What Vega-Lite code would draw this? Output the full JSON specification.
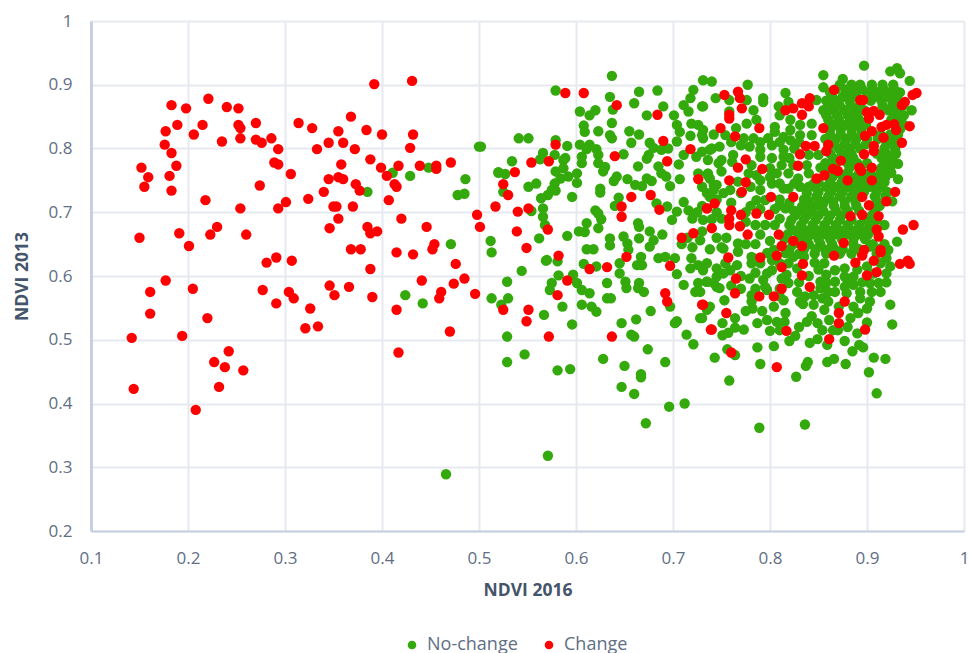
{"$schema":"https://vega.github.io/schema/vega-lite/v6.json","autosize":{"type":"none"},"padding":{"left":91,"top":21,"right":6,"bottom":122},"width":873,"height":510,"background":"white","config":{"view":{"stroke":null},"font":"Open Sans"},
"datasets":{"nochange":[{"x":0.466,"y":0.289},{"x":0.571,"y":0.318},{"x":0.411,"y":0.762},{"x":0.429,"y":0.757},{"x":0.448,"y":0.77},{"x":0.5,"y":0.803},{"x":0.385,"y":0.732},{"x":0.486,"y":0.752},{"x":0.478,"y":0.727},{"x":0.485,"y":0.729},{"x":0.471,"y":0.65},{"x":0.512,"y":0.655},{"x":0.513,"y":0.637},{"x":0.424,"y":0.57},{"x":0.442,"y":0.557},{"x":0.513,"y":0.565},{"x":0.52,"y":0.762},
{"x":0.544,"y":0.608},{"x":0.529,"y":0.591},{"x":0.53,"y":0.565},{"x":0.523,"y":0.555},{"x":0.569,"y":0.624},{"x":0.581,"y":0.623},{"x":0.582,"y":0.601},{"x":0.575,"y":0.589},{"x":0.573,"y":0.578},{"x":0.597,"y":0.602},{"x":0.601,"y":0.589},{"x":0.606,"y":0.578},{"x":0.614,"y":0.573},{"x":0.608,"y":0.619},{"x":0.621,"y":0.615},{"x":0.632,"y":0.589},{"x":0.645,"y":0.604},{"x":0.651,"y":0.591},{"x":0.652,"y":0.581},{"x":0.665,"y":0.589},{"x":0.664,"y":0.581},{"x":0.67,"y":0.575},{"x":0.632,"y":0.565},{"x":0.636,"y":0.565},{"x":0.586,"y":0.552},{"x":0.606,"y":0.555},{"x":0.616,"y":0.552},{"x":0.621,"y":0.544},{"x":0.567,"y":0.539},{"x":0.596,"y":0.524},{"x":0.677,"y":0.545},{"x":0.647,"y":0.526},{"x":0.662,"y":0.532},{"x":0.529,"y":0.505},{"x":0.547,"y":0.477},{"x":0.529,"y":0.465},{"x":0.581,"y":0.452},{"x":0.594,"y":0.454},{"x":0.628,"y":0.47},{"x":0.65,"y":0.459},{"x":0.657,"y":0.508},{"x":0.66,"y":0.505},{"x":0.674,"y":0.485},{"x":0.692,"y":0.465},{"x":0.667,"y":0.446},{"x":0.667,"y":0.441},{"x":0.647,"y":0.426},{"x":0.66,"y":0.415},{"x":0.696,"y":0.395},{"x":0.712,"y":0.4},{"x":0.672,"y":0.369},{"x":0.704,"y":0.529},{"x":0.702,"y":0.526},{"x":0.714,"y":0.508},{"x":0.721,"y":0.493},{"x":0.743,"y":0.472},{"x":0.728,"y":0.534},{"x":0.735,"y":0.547},{"x":0.711,"y":0.586},{"x":0.704,"y":0.603},{"x":0.723,"y":0.575},{"x":0.726,"y":0.589},{"x":0.735,"y":0.591},{"x":0.718,"y":0.612},{"x":0.726,"y":0.617},{"x":0.735,"y":0.62},{"x":0.745,"y":0.583},{"x":0.685,"y":0.628},{"x":0.692,"y":0.63},{"x":0.702,"y":0.628},{"x":0.719,"y":0.628},{"x":0.663,"y":0.617},{"x":0.668,"y":0.617},{"x":0.667,"y":0.63},{"x":0.645,"y":0.62},{"x":0.697,"y":0.552},
{"x":0.637,"y":0.914},{"x":0.579,"y":0.891},{"x":0.635,"y":0.881},{"x":0.665,"y":0.889},{"x":0.684,"y":0.891},{"x":0.66,"y":0.871},{"x":0.638,"y":0.861},{"x":0.62,"y":0.86},{"x":0.614,"y":0.852},{"x":0.604,"y":0.858},{"x":0.673,"y":0.852},{"x":0.69,"y":0.866},{"x":0.701,"y":0.852},{"x":0.711,"y":0.868},{"x":0.716,"y":0.858},{"x":0.718,"y":0.879},{"x":0.721,"y":0.892},{"x":0.73,"y":0.866},{"x":0.731,"y":0.907},{"x":0.74,"y":0.905},{"x":0.744,"y":0.879},{"x":0.608,"y":0.836},{"x":0.609,"y":0.826},{"x":0.623,"y":0.827},{"x":0.637,"y":0.84},{"x":0.635,"y":0.821},{"x":0.637,"y":0.816},{"x":0.655,"y":0.827},{"x":0.665,"y":0.822},{"x":0.657,"y":0.809},{"x":0.704,"y":0.837},{"x":0.707,"y":0.826},{"x":0.704,"y":0.811},{"x":0.718,"y":0.82},{"x":0.719,"y":0.839},{"x":0.726,"y":0.837},{"x":0.73,"y":0.821},{"x":0.742,"y":0.822},{"x":0.541,"y":0.816},{"x":0.551,"y":0.816},{"x":0.502,"y":0.803},{"x":0.534,"y":0.78},{"x":0.579,"y":0.813},{"x":0.591,"y":0.804},{"x":0.566,"y":0.793},{"x":0.563,"y":0.783},{"x":0.578,"y":0.79},{"x":0.589,"y":0.785},{"x":0.587,"y":0.782},{"x":0.604,"y":0.806},{"x":0.614,"y":0.806},{"x":0.611,"y":0.799},{"x":0.621,"y":0.799},{"x":0.606,"y":0.787},{"x":0.606,"y":0.777},{"x":0.623,"y":0.79},{"x":0.623,"y":0.777},{"x":0.63,"y":0.771},{"x":0.628,"y":0.764},{"x":0.649,"y":0.791},{"x":0.676,"y":0.809},{"x":0.68,"y":0.801},{"x":0.675,"y":0.79},{"x":0.673,"y":0.784},{"x":0.688,"y":0.798},{"x":0.695,"y":0.8},{"x":0.685,"y":0.772},{"x":0.688,"y":0.761},{"x":0.693,"y":0.756},{"x":0.697,"y":0.741},{"x":0.706,"y":0.775},{"x":0.711,"y":0.79},{"x":0.724,"y":0.787},{"x":0.738,"y":0.798},{"x":0.736,"y":0.782},{"x":0.747,"y":0.777},{"x":0.664,"y":0.772},{"x":0.52,"y":0.763},{"x":0.527,"y":0.76},{"x":0.551,"y":0.74},{"x":0.559,"y":0.745},{"x":0.579,"y":0.764},{"x":0.587,"y":0.769},{"x":0.584,"y":0.753},{"x":0.592,"y":0.756},{"x":0.601,"y":0.761},{"x":0.601,"y":0.746},{"x":0.578,"y":0.745},{"x":0.575,"y":0.735},{"x":0.579,"y":0.734},{"x":0.571,"y":0.727},{"x":0.564,"y":0.722},{"x":0.596,"y":0.724},{"x":0.625,"y":0.737},{"x":0.625,"y":0.731},{"x":0.642,"y":0.756},{"x":0.639,"y":0.749},{"x":0.653,"y":0.752},{"x":0.661,"y":0.743},{"x":0.668,"y":0.741},{"x":0.673,"y":0.753},{"x":0.678,"y":0.749},{"x":0.707,"y":0.752},{"x":0.726,"y":0.761},{"x":0.736,"y":0.758},{"x":0.742,"y":0.743},{"x":0.738,"y":0.724},{"x":0.525,"y":0.732},{"x":0.566,"y":0.706},{"x":0.554,"y":0.702},{"x":0.566,"y":0.693},{"x":0.568,"y":0.68},{"x":0.562,"y":0.659},{"x":0.591,"y":0.663},{"x":0.611,"y":0.683},{"x":0.603,"y":0.67},{"x":0.609,"y":0.669},{"x":0.623,"y":0.675},{"x":0.626,"y":0.689},{"x":0.62,"y":0.703},{"x":0.623,"y":0.698},{"x":0.644,"y":0.723},{"x":0.64,"y":0.71},{"x":0.664,"y":0.683},{"x":0.665,"y":0.677},{"x":0.676,"y":0.67},{"x":0.665,"y":0.659},{"x":0.689,"y":0.665},{"x":0.68,"y":0.656},{"x":0.676,"y":0.646},{"x":0.635,"y":0.659},{"x":0.635,"y":0.648},{"x":0.649,"y":0.662},{"x":0.653,"y":0.651},{"x":0.654,"y":0.641},{"x":0.611,"y":0.642},{"x":0.618,"y":0.642},{"x":0.709,"y":0.65},{"x":0.728,"y":0.656},{"x":0.738,"y":0.642},{"x":0.731,"y":0.688},{"x":0.74,"y":0.689},{"x":0.711,"y":0.716},{"x":0.704,"y":0.701},{"x":0.716,"y":0.703},{"x":0.694,"y":0.709},{"x":0.699,"y":0.688},{"x":0.57,"y":0.625},{"x":0.683,"y":0.714},
{"x":0.789,"y":0.362},{"x":0.836,"y":0.367},{"x":0.91,"y":0.416},{"x":0.758,"y":0.436},{"x":0.827,"y":0.442},{"x":0.902,"y":0.449},{"x":0.79,"y":0.462},{"x":0.787,"y":0.488},{"x":0.804,"y":0.49},{"x":0.837,"y":0.459},{"x":0.839,"y":0.465},{"x":0.859,"y":0.465},{"x":0.866,"y":0.47},{"x":0.878,"y":0.462},{"x":0.907,"y":0.472},{"x":0.919,"y":0.47},{"x":0.885,"y":0.482},{"x":0.892,"y":0.492},{"x":0.896,"y":0.488},{"x":0.877,"y":0.498},{"x":0.82,"y":0.498},{"x":0.841,"y":0.495},{"x":0.849,"y":0.501},{"x":0.859,"y":0.492},{"x":0.826,"y":0.506},{"x":0.764,"y":0.476},{"x":0.756,"y":0.485},{"x":0.926,"y":0.524},{"x":0.924,"y":0.555},{"x":0.9,"y":0.527},{"x":0.883,"y":0.534},{"x":0.751,"y":0.507},{"x":0.757,"y":0.511},{"x":0.751,"y":0.526},{"x":0.764,"y":0.534},{"x":0.764,"y":0.519},{"x":0.773,"y":0.516},{"x":0.787,"y":0.526},{"x":0.8,"y":0.514},{"x":0.797,"y":0.531},{"x":0.807,"y":0.528},{"x":0.815,"y":0.528},{"x":0.816,"y":0.542},{"x":0.792,"y":0.545},{"x":0.782,"y":0.549},{"x":0.775,"y":0.545},{"x":0.804,"y":0.552},{"x":0.838,"y":0.528},{"x":0.843,"y":0.537},{"x":0.849,"y":0.526},{"x":0.854,"y":0.515},{"x":0.861,"y":0.531},{"x":0.856,"y":0.547},{"x":0.854,"y":0.565},{"x":0.834,"y":0.556},{"x":0.831,"y":0.56},{"x":0.738,"y":0.552},{"x":0.73,"y":0.534},{"x":0.753,"y":0.562},{"x":0.748,"y":0.581},{"x":0.742,"y":0.589},{"x":0.731,"y":0.609},{"x":0.735,"y":0.591},{"x":0.745,"y":0.599},{"x":0.752,"y":0.604},{"x":0.759,"y":0.609},{"x":0.766,"y":0.617},{"x":0.754,"y":0.62},{"x":0.745,"y":0.612},{"x":0.781,"y":0.57},{"x":0.781,"y":0.56},{"x":0.797,"y":0.578},{"x":0.793,"y":0.594},{"x":0.797,"y":0.604},{"x":0.802,"y":0.609},{"x":0.795,"y":0.583},{"x":0.817,"y":0.602},{"x":0.812,"y":0.596},{"x":0.81,"y":0.568},{"x":0.819,"y":0.589},{"x":0.814,"y":0.562},{"x":0.828,"y":0.575},{"x":0.836,"y":0.568},{"x":0.852,"y":0.581},{"x":0.852,"y":0.591},{"x":0.858,"y":0.602},{"x":0.867,"y":0.609},{"x":0.877,"y":0.612},{"x":0.858,"y":0.589},{"x":0.867,"y":0.591},{"x":0.867,"y":0.575},{"x":0.877,"y":0.599},{"x":0.877,"y":0.583},{"x":0.886,"y":0.599},{"x":0.886,"y":0.586},{"x":0.879,"y":0.573},{"x":0.893,"y":0.575},{"x":0.893,"y":0.565},{"x":0.903,"y":0.56},{"x":0.9,"y":0.549},{"x":0.891,"y":0.542},{"x":0.886,"y":0.552},{"x":0.871,"y":0.552},{"x":0.912,"y":0.589},{"x":0.914,"y":0.575},{"x":0.92,"y":0.604},{"x":0.903,"y":0.589},{"x":0.924,"y":0.615},{"x":0.92,"y":0.628},{"x":0.922,"y":0.641},{"x":0.931,"y":0.654},{"x":0.846,"y":0.621},{"x":0.856,"y":0.62},{"x":0.781,"y":0.63},{"x":0.781,"y":0.62},{"x":0.779,"y":0.596},{"x":0.767,"y":0.638},{"x":0.767,"y":0.651},{"x":0.752,"y":0.643},{"x":0.816,"y":0.636},{"x":0.824,"y":0.63},{"x":0.797,"y":0.636},{"x":0.804,"y":0.641},{"x":0.802,"y":0.625},{"x":0.819,"y":0.62},{"x":0.828,"y":0.612},{"x":0.866,"y":0.643},{"x":0.857,"y":0.641},{"x":0.886,"y":0.641},{"x":0.903,"y":0.646},{"x":0.914,"y":0.62},{"x":0.907,"y":0.604},{"x":0.728,"y":0.575},
{"x":0.897,"y":0.93},{"x":0.855,"y":0.915},{"x":0.855,"y":0.896},{"x":0.875,"y":0.909},{"x":0.924,"y":0.921},{"x":0.931,"y":0.926},{"x":0.934,"y":0.918},{"x":0.944,"y":0.906},{"x":0.946,"y":0.86},{"x":0.932,"y":0.776},{"x":0.932,"y":0.752},{"x":0.922,"y":0.764},{"x":0.926,"y":0.717},{"x":0.816,"y":0.887},{"x":0.793,"y":0.879},{"x":0.793,"y":0.873},{"x":0.777,"y":0.9},{"x":0.758,"y":0.876},{"x":0.776,"y":0.876},{"x":0.783,"y":0.86},{"x":0.809,"y":0.866},{"x":0.819,"y":0.873},{"x":0.81,"y":0.852},{"x":0.821,"y":0.845},{"x":0.848,"y":0.876},{"x":0.786,"y":0.845},{"x":0.776,"y":0.839},{"x":0.805,"y":0.834},{"x":0.805,"y":0.826},{"x":0.731,"y":0.866},{"x":0.758,"y":0.858},{"x":0.765,"y":0.832},{"x":0.731,"y":0.829},{"x":0.731,"y":0.816},{"x":0.754,"y":0.821},{"x":0.773,"y":0.816},{"x":0.783,"y":0.816},{"x":0.798,"y":0.816},{"x":0.802,"y":0.805},{"x":0.814,"y":0.818},{"x":0.821,"y":0.829},{"x":0.831,"y":0.837},{"x":0.843,"y":0.839},{"x":0.843,"y":0.821},{"x":0.831,"y":0.821},{"x":0.821,"y":0.813},{"x":0.79,"y":0.798},{"x":0.814,"y":0.798},{"x":0.814,"y":0.787},{"x":0.802,"y":0.785},{"x":0.79,"y":0.787},{"x":0.779,"y":0.803},{"x":0.762,"y":0.79},{"x":0.748,"y":0.803},{"x":0.74,"y":0.8},{"x":0.73,"y":0.795},{"x":0.75,"y":0.782},{"x":0.761,"y":0.779},{"x":0.781,"y":0.774},{"x":0.75,"y":0.764},{"x":0.736,"y":0.761},{"x":0.738,"y":0.753},{"x":0.8,"y":0.769},{"x":0.812,"y":0.774},{"x":0.824,"y":0.774},{"x":0.819,"y":0.761},{"x":0.807,"y":0.761},{"x":0.786,"y":0.758},{"x":0.778,"y":0.761},{"x":0.838,"y":0.774},{"x":0.84,"y":0.761},{"x":0.829,"y":0.753},{"x":0.767,"y":0.748},{"x":0.745,"y":0.743},{"x":0.742,"y":0.735},{"x":0.752,"y":0.73},{"x":0.759,"y":0.735},{"x":0.79,"y":0.735},{"x":0.802,"y":0.745},{"x":0.814,"y":0.737},{"x":0.819,"y":0.737},{"x":0.831,"y":0.74},{"x":0.838,"y":0.73},{"x":0.786,"y":0.719},{"x":0.795,"y":0.719},{"x":0.81,"y":0.711},{"x":0.816,"y":0.706},{"x":0.824,"y":0.703},{"x":0.833,"y":0.709},{"x":0.843,"y":0.706},{"x":0.855,"y":0.714},
{"x":0.872,"y":0.9},{"x":0.884,"y":0.9},{"x":0.893,"y":0.9},{"x":0.905,"y":0.9},{"x":0.916,"y":0.9},{"x":0.927,"y":0.9},{"x":0.862,"y":0.888},{"x":0.878,"y":0.888},{"x":0.889,"y":0.888},{"x":0.9,"y":0.888},{"x":0.911,"y":0.888},{"x":0.922,"y":0.888},{"x":0.934,"y":0.888},{"x":0.858,"y":0.875},{"x":0.869,"y":0.875},{"x":0.882,"y":0.875},{"x":0.904,"y":0.875},{"x":0.915,"y":0.875},{"x":0.926,"y":0.875},{"x":0.932,"y":0.875},{"x":0.855,"y":0.86},{"x":0.866,"y":0.86},{"x":0.877,"y":0.86},{"x":0.888,"y":0.86},{"x":0.897,"y":0.86},{"x":0.922,"y":0.86},{"x":0.931,"y":0.86},{"x":0.86,"y":0.845},{"x":0.871,"y":0.845},{"x":0.883,"y":0.845},{"x":0.892,"y":0.845},{"x":0.925,"y":0.845},{"x":0.935,"y":0.845},{"x":0.862,"y":0.83},{"x":0.873,"y":0.83},{"x":0.884,"y":0.83},{"x":0.894,"y":0.83},{"x":0.934,"y":0.83},{"x":0.857,"y":0.815},{"x":0.868,"y":0.815},{"x":0.879,"y":0.815},{"x":0.889,"y":0.815},{"x":0.9,"y":0.815},{"x":0.911,"y":0.815},{"x":0.925,"y":0.815},{"x":0.86,"y":0.8},{"x":0.871,"y":0.8},{"x":0.882,"y":0.8},{"x":0.893,"y":0.8},{"x":0.918,"y":0.8},{"x":0.929,"y":0.8},{"x":0.865,"y":0.785},{"x":0.877,"y":0.785},{"x":0.886,"y":0.785},{"x":0.915,"y":0.785},{"x":0.926,"y":0.785},{"x":0.852,"y":0.77},{"x":0.862,"y":0.77},{"x":0.882,"y":0.77},{"x":0.915,"y":0.77},{"x":0.924,"y":0.77},{"x":0.864,"y":0.755},{"x":0.875,"y":0.755},{"x":0.888,"y":0.755},{"x":0.898,"y":0.755},{"x":0.91,"y":0.755},{"x":0.919,"y":0.755},{"x":0.846,"y":0.74},{"x":0.858,"y":0.74},{"x":0.869,"y":0.74},{"x":0.881,"y":0.74},{"x":0.891,"y":0.74},{"x":0.903,"y":0.74},{"x":0.914,"y":0.74},{"x":0.848,"y":0.725},{"x":0.86,"y":0.725},{"x":0.872,"y":0.725},{"x":0.884,"y":0.725},{"x":0.908,"y":0.725},{"x":0.919,"y":0.725},{"x":0.835,"y":0.71},{"x":0.847,"y":0.71},{"x":0.866,"y":0.71},{"x":0.877,"y":0.71},{"x":0.889,"y":0.71},{"x":0.913,"y":0.71},{"x":0.826,"y":0.695},{"x":0.838,"y":0.695},{"x":0.85,"y":0.695},{"x":0.862,"y":0.695},{"x":0.874,"y":0.695},{"x":0.905,"y":0.695},{"x":0.82,"y":0.68},{"x":0.832,"y":0.68},{"x":0.844,"y":0.68},{"x":0.856,"y":0.68},{"x":0.868,"y":0.68},{"x":0.88,"y":0.68},{"x":0.892,"y":0.68},{"x":0.903,"y":0.68},{"x":0.918,"y":0.68},{"x":0.818,"y":0.665},{"x":0.83,"y":0.665},{"x":0.842,"y":0.665},{"x":0.854,"y":0.665},{"x":0.866,"y":0.665},{"x":0.878,"y":0.665},{"x":0.89,"y":0.665},{"x":0.901,"y":0.665},{"x":0.824,"y":0.65},{"x":0.84,"y":0.65},{"x":0.852,"y":0.65},{"x":0.864,"y":0.65},{"x":0.886,"y":0.65},{"x":0.906,"y":0.65},{"x":0.918,"y":0.65},{"x":0.83,"y":0.635},{"x":0.846,"y":0.635},{"x":0.858,"y":0.635},{"x":0.872,"y":0.635},{"x":0.884,"y":0.635},{"x":0.895,"y":0.635},{"x":0.91,"y":0.635},{"x":0.919,"y":0.635},
{"x":0.868,"y":0.893},{"x":0.88,"y":0.893},{"x":0.895,"y":0.893},{"x":0.906,"y":0.893},{"x":0.917,"y":0.893},{"x":0.928,"y":0.893},{"x":0.864,"y":0.881},{"x":0.875,"y":0.881},{"x":0.886,"y":0.881},{"x":0.908,"y":0.881},{"x":0.919,"y":0.881},{"x":0.929,"y":0.881},{"x":0.861,"y":0.867},{"x":0.872,"y":0.867},{"x":0.883,"y":0.867},{"x":0.892,"y":0.867},{"x":0.916,"y":0.867},{"x":0.926,"y":0.867},{"x":0.937,"y":0.867},{"x":0.858,"y":0.852},{"x":0.869,"y":0.852},{"x":0.88,"y":0.852},{"x":0.89,"y":0.852},{"x":0.928,"y":0.852},{"x":0.938,"y":0.852},{"x":0.866,"y":0.837},{"x":0.878,"y":0.837},{"x":0.889,"y":0.837},{"x":0.899,"y":0.837},{"x":0.938,"y":0.837},{"x":0.862,"y":0.822},{"x":0.873,"y":0.822},{"x":0.884,"y":0.822},{"x":0.894,"y":0.822},{"x":0.914,"y":0.822},{"x":0.924,"y":0.822},{"x":0.932,"y":0.822},{"x":0.866,"y":0.807},{"x":0.877,"y":0.807},{"x":0.888,"y":0.807},{"x":0.899,"y":0.807},{"x":0.92,"y":0.807},{"x":0.93,"y":0.807},{"x":0.862,"y":0.792},{"x":0.874,"y":0.792},{"x":0.884,"y":0.792},{"x":0.92,"y":0.792},{"x":0.93,"y":0.792},{"x":0.91,"y":0.792},{"x":0.857,"y":0.777},{"x":0.868,"y":0.777},{"x":0.88,"y":0.777},{"x":0.89,"y":0.777},{"x":0.9,"y":0.777},{"x":0.92,"y":0.777},{"x":0.858,"y":0.762},{"x":0.87,"y":0.762},{"x":0.88,"y":0.762},{"x":0.892,"y":0.762},{"x":0.903,"y":0.762},{"x":0.914,"y":0.762},{"x":0.925,"y":0.762},{"x":0.85,"y":0.747},{"x":0.862,"y":0.747},{"x":0.874,"y":0.747},{"x":0.886,"y":0.747},{"x":0.896,"y":0.747},{"x":0.908,"y":0.747},{"x":0.918,"y":0.747},{"x":0.85,"y":0.732},{"x":0.863,"y":0.732},{"x":0.875,"y":0.732},{"x":0.887,"y":0.732},{"x":0.897,"y":0.732},{"x":0.91,"y":0.732},{"x":0.921,"y":0.732},{"x":0.84,"y":0.717},{"x":0.853,"y":0.717},{"x":0.865,"y":0.717},{"x":0.877,"y":0.717},{"x":0.888,"y":0.717},{"x":0.91,"y":0.717},{"x":0.83,"y":0.702},{"x":0.842,"y":0.702},{"x":0.855,"y":0.702},{"x":0.868,"y":0.702},{"x":0.88,"y":0.702},{"x":0.892,"y":0.702},{"x":0.908,"y":0.702},{"x":0.822,"y":0.688},{"x":0.835,"y":0.688},{"x":0.847,"y":0.688},{"x":0.86,"y":0.688},{"x":0.872,"y":0.688},{"x":0.884,"y":0.688},{"x":0.897,"y":0.688},{"x":0.91,"y":0.688},{"x":0.824,"y":0.672},{"x":0.836,"y":0.672},{"x":0.848,"y":0.672},{"x":0.86,"y":0.672},{"x":0.872,"y":0.672},{"x":0.884,"y":0.672},{"x":0.896,"y":0.672},{"x":0.906,"y":0.672},{"x":0.815,"y":0.658},{"x":0.828,"y":0.658},{"x":0.838,"y":0.658},{"x":0.85,"y":0.658},{"x":0.862,"y":0.658},{"x":0.874,"y":0.658},{"x":0.886,"y":0.658},{"x":0.898,"y":0.658},{"x":0.82,"y":0.642},{"x":0.835,"y":0.642},{"x":0.847,"y":0.642},{"x":0.875,"y":0.642},{"x":0.892,"y":0.642},{"x":0.912,"y":0.642},
{"x":0.76,"y":0.81},{"x":0.77,"y":0.805},{"x":0.79,"y":0.81},{"x":0.81,"y":0.81},{"x":0.825,"y":0.8},{"x":0.83,"y":0.81},{"x":0.84,"y":0.79},{"x":0.85,"y":0.79},{"x":0.82,"y":0.785},{"x":0.8,"y":0.755},{"x":0.79,"y":0.75},{"x":0.78,"y":0.74},{"x":0.77,"y":0.73},{"x":0.81,"y":0.745},{"x":0.825,"y":0.745},{"x":0.845,"y":0.745},{"x":0.84,"y":0.74},{"x":0.835,"y":0.72},{"x":0.82,"y":0.715},{"x":0.81,"y":0.72},{"x":0.805,"y":0.705},{"x":0.79,"y":0.705},{"x":0.78,"y":0.71},{"x":0.775,"y":0.7},{"x":0.775,"y":0.685},{"x":0.785,"y":0.68},{"x":0.795,"y":0.68},{"x":0.805,"y":0.68},{"x":0.81,"y":0.69},{"x":0.79,"y":0.665},{"x":0.8,"y":0.655},{"x":0.785,"y":0.65},{"x":0.775,"y":0.65},{"x":0.755,"y":0.66},{"x":0.745,"y":0.66},{"x":0.75,"y":0.645},{"x":0.76,"y":0.715},{"x":0.745,"y":0.72},{"x":0.735,"y":0.73},{"x":0.73,"y":0.74},{"x":0.73,"y":0.71},{"x":0.725,"y":0.7},{"x":0.72,"y":0.69},{"x":0.75,"y":0.69},{"x":0.745,"y":0.7},{"x":0.72,"y":0.645},{"x":0.715,"y":0.66},{"x":0.73,"y":0.67},{"x":0.79,"y":0.62},{"x":0.81,"y":0.62},{"x":0.835,"y":0.63},{"x":0.85,"y":0.61},{"x":0.84,"y":0.6},{"x":0.83,"y":0.59},{"x":0.845,"y":0.57},{"x":0.81,"y":0.58},{"x":0.785,"y":0.58},{"x":0.77,"y":0.58},{"x":0.76,"y":0.585},{"x":0.77,"y":0.6},{"x":0.785,"y":0.605},{"x":0.86,"y":0.575},{"x":0.845,"y":0.555},{"x":0.86,"y":0.56},{"x":0.88,"y":0.59},{"x":0.895,"y":0.59},{"x":0.89,"y":0.61},{"x":0.9,"y":0.615},{"x":0.92,"y":0.59},{"x":0.905,"y":0.575},{"x":0.83,"y":0.52},{"x":0.81,"y":0.515},{"x":0.87,"y":0.515},{"x":0.88,"y":0.52},{"x":0.89,"y":0.51},{"x":0.865,"y":0.515}],
"change":[{"x":0.392,"y":0.901},{"x":0.431,"y":0.906},{"x":0.183,"y":0.868},{"x":0.198,"y":0.863},{"x":0.221,"y":0.878},{"x":0.24,"y":0.865},{"x":0.252,"y":0.863},{"x":0.189,"y":0.837},{"x":0.177,"y":0.827},{"x":0.215,"y":0.837},{"x":0.206,"y":0.822},{"x":0.252,"y":0.837},{"x":0.254,"y":0.832},{"x":0.254,"y":0.816},{"x":0.27,"y":0.84},{"x":0.235,"y":0.811},{"x":0.27,"y":0.814},{"x":0.276,"y":0.809},{"x":0.286,"y":0.816},{"x":0.293,"y":0.799},{"x":0.176,"y":0.806},{"x":0.183,"y":0.793},{"x":0.188,"y":0.773},{"x":0.181,"y":0.757},{"x":0.183,"y":0.734},{"x":0.152,"y":0.77},{"x":0.159,"y":0.755},{"x":0.155,"y":0.74},{"x":0.289,"y":0.778},{"x":0.293,"y":0.775},{"x":0.306,"y":0.76},{"x":0.274,"y":0.742},{"x":0.314,"y":0.84},{"x":0.328,"y":0.832},{"x":0.333,"y":0.799},{"x":0.345,"y":0.809},{"x":0.355,"y":0.827},{"x":0.36,"y":0.809},{"x":0.372,"y":0.799},{"x":0.368,"y":0.85},{"x":0.384,"y":0.829},{"x":0.4,"y":0.822},{"x":0.432,"y":0.822},{"x":0.429,"y":0.801},{"x":0.388,"y":0.783},{"x":0.358,"y":0.775},{"x":0.345,"y":0.752},{"x":0.355,"y":0.755},{"x":0.36,"y":0.752},{"x":0.373,"y":0.744},{"x":0.377,"y":0.734},{"x":0.34,"y":0.732},{"x":0.324,"y":0.721},{"x":0.301,"y":0.716},{"x":0.293,"y":0.706},{"x":0.254,"y":0.706},{"x":0.218,"y":0.719},{"x":0.399,"y":0.77},{"x":0.405,"y":0.757},{"x":0.417,"y":0.773},{"x":0.413,"y":0.744},{"x":0.415,"y":0.74},{"x":0.407,"y":0.719},{"x":0.439,"y":0.773},{"x":0.456,"y":0.773},{"x":0.456,"y":0.768},{"x":0.471,"y":0.778},{"x":0.35,"y":0.709},{"x":0.353,"y":0.709},{"x":0.37,"y":0.709},{"x":0.355,"y":0.69},{"x":0.346,"y":0.675},{"x":0.42,"y":0.69},{"x":0.446,"y":0.677},{"x":0.385,"y":0.677},{"x":0.388,"y":0.667},{"x":0.395,"y":0.67},{"x":0.15,"y":0.66},{"x":0.191,"y":0.667},{"x":0.201,"y":0.647},{"x":0.223,"y":0.665},{"x":0.23,"y":0.677},{"x":0.26,"y":0.665},{"x":0.368,"y":0.642},{"x":0.378,"y":0.642},{"x":0.415,"y":0.637},{"x":0.432,"y":0.634},{"x":0.454,"y":0.65},{"x":0.452,"y":0.642},{"x":0.476,"y":0.619},{"x":0.281,"y":0.621},{"x":0.291,"y":0.629},{"x":0.307,"y":0.624},{"x":0.388,"y":0.611},{"x":0.441,"y":0.593},{"x":0.485,"y":0.596},{"x":0.474,"y":0.588},{"x":0.177,"y":0.593},{"x":0.161,"y":0.575},{"x":0.205,"y":0.58},{"x":0.277,"y":0.578},{"x":0.304,"y":0.575},{"x":0.309,"y":0.565},{"x":0.291,"y":0.557},{"x":0.346,"y":0.585},{"x":0.351,"y":0.57},{"x":0.366,"y":0.583},{"x":0.39,"y":0.567},{"x":0.461,"y":0.575},{"x":0.459,"y":0.565},{"x":0.496,"y":0.572},{"x":0.415,"y":0.547},{"x":0.326,"y":0.549},{"x":0.161,"y":0.541},{"x":0.22,"y":0.534},{"x":0.321,"y":0.518},{"x":0.334,"y":0.521},{"x":0.142,"y":0.503},{"x":0.194,"y":0.506},{"x":0.47,"y":0.513},{"x":0.417,"y":0.48},{"x":0.242,"y":0.482},{"x":0.227,"y":0.465},{"x":0.238,"y":0.457},{"x":0.257,"y":0.452},{"x":0.144,"y":0.423},{"x":0.232,"y":0.426},{"x":0.208,"y":0.39},{"x":0.498,"y":0.696},{"x":0.501,"y":0.677},{"x":0.517,"y":0.709},
{"x":0.589,"y":0.887},{"x":0.608,"y":0.887},{"x":0.642,"y":0.868},{"x":0.684,"y":0.853},{"x":0.579,"y":0.806},{"x":0.572,"y":0.78},{"x":0.554,"y":0.778},{"x":0.537,"y":0.763},{"x":0.525,"y":0.744},{"x":0.53,"y":0.727},{"x":0.54,"y":0.701},{"x":0.551,"y":0.706},{"x":0.539,"y":0.67},{"x":0.571,"y":0.673},{"x":0.549,"y":0.644},{"x":0.582,"y":0.632},{"x":0.64,"y":0.788},{"x":0.69,"y":0.812},{"x":0.718,"y":0.799},{"x":0.694,"y":0.78},{"x":0.726,"y":0.752},{"x":0.677,"y":0.727},{"x":0.657,"y":0.724},{"x":0.647,"y":0.709},{"x":0.647,"y":0.693},{"x":0.686,"y":0.704},{"x":0.735,"y":0.706},{"x":0.743,"y":0.714},{"x":0.74,"y":0.675},{"x":0.721,"y":0.667},{"x":0.709,"y":0.66},{"x":0.652,"y":0.63},{"x":0.614,"y":0.611},{"x":0.632,"y":0.614},{"x":0.697,"y":0.616},{"x":0.591,"y":0.593},{"x":0.581,"y":0.57},{"x":0.692,"y":0.573},{"x":0.694,"y":0.56},{"x":0.73,"y":0.555},{"x":0.525,"y":0.547},{"x":0.551,"y":0.547},{"x":0.549,"y":0.529},{"x":0.74,"y":0.516},{"x":0.572,"y":0.505},{"x":0.637,"y":0.505},
{"x":0.753,"y":0.884},{"x":0.767,"y":0.889},{"x":0.769,"y":0.879},{"x":0.771,"y":0.863},{"x":0.758,"y":0.853},{"x":0.758,"y":0.847},{"x":0.749,"y":0.832},{"x":0.764,"y":0.819},{"x":0.789,"y":0.832},{"x":0.775,"y":0.783},{"x":0.767,"y":0.77},{"x":0.792,"y":0.768},{"x":0.758,"y":0.75},{"x":0.775,"y":0.747},{"x":0.771,"y":0.732},{"x":0.735,"y":0.706},{"x":0.76,"y":0.703},{"x":0.77,"y":0.696},{"x":0.758,"y":0.69},{"x":0.758,"y":0.68},{"x":0.769,"y":0.678},{"x":0.777,"y":0.665},{"x":0.786,"y":0.698},{"x":0.799,"y":0.696},{"x":0.801,"y":0.724},{"x":0.824,"y":0.724},{"x":0.809,"y":0.665},{"x":0.812,"y":0.647},{"x":0.824,"y":0.655},{"x":0.833,"y":0.647},{"x":0.816,"y":0.86},{"x":0.824,"y":0.863},{"x":0.833,"y":0.871},{"x":0.841,"y":0.879},{"x":0.84,"y":0.866},{"x":0.833,"y":0.853},{"x":0.866,"y":0.892},{"x":0.855,"y":0.832},{"x":0.837,"y":0.804},{"x":0.846,"y":0.804},{"x":0.86,"y":0.806},{"x":0.858,"y":0.796},{"x":0.831,"y":0.791},{"x":0.829,"y":0.773},{"x":0.848,"y":0.753},{"x":0.856,"y":0.758},{"x":0.873,"y":0.781},{"x":0.865,"y":0.768},{"x":0.87,"y":0.765},{"x":0.88,"y":0.75},{"x":0.892,"y":0.77},{"x":0.894,"y":0.765},{"x":0.905,"y":0.77},{"x":0.905,"y":0.75},{"x":0.895,"y":0.724},{"x":0.902,"y":0.711},{"x":0.929,"y":0.732},{"x":0.92,"y":0.717},{"x":0.912,"y":0.694},{"x":0.895,"y":0.696},{"x":0.883,"y":0.694},{"x":0.91,"y":0.673},{"x":0.912,"y":0.662},{"x":0.876,"y":0.652},{"x":0.897,"y":0.641},{"x":0.914,"y":0.641},{"x":0.937,"y":0.673},{"x":0.948,"y":0.68},{"x":0.897,"y":0.791},{"x":0.907,"y":0.796},{"x":0.907,"y":0.804},{"x":0.898,"y":0.82},{"x":0.905,"y":0.827},{"x":0.915,"y":0.834},{"x":0.92,"y":0.837},{"x":0.928,"y":0.838},{"x":0.93,"y":0.829},{"x":0.917,"y":0.817},{"x":0.936,"y":0.809},{"x":0.944,"y":0.835},{"x":0.902,"y":0.847},{"x":0.9,"y":0.857},{"x":0.907,"y":0.859},{"x":0.913,"y":0.853},{"x":0.893,"y":0.876},{"x":0.896,"y":0.876},{"x":0.936,"y":0.868},{"x":0.939,"y":0.873},{"x":0.947,"y":0.884},{"x":0.951,"y":0.887},
{"x":0.757,"y":0.629},{"x":0.79,"y":0.629},{"x":0.807,"y":0.632},{"x":0.812,"y":0.614},{"x":0.834,"y":0.619},{"x":0.833,"y":0.601},{"x":0.841,"y":0.583},{"x":0.812,"y":0.58},{"x":0.804,"y":0.568},{"x":0.789,"y":0.568},{"x":0.764,"y":0.573},{"x":0.765,"y":0.596},{"x":0.866,"y":0.632},{"x":0.888,"y":0.621},{"x":0.895,"y":0.632},{"x":0.907,"y":0.624},{"x":0.914,"y":0.637},{"x":0.9,"y":0.601},{"x":0.91,"y":0.606},{"x":0.934,"y":0.619},{"x":0.942,"y":0.624},{"x":0.944,"y":0.619},{"x":0.877,"y":0.56},{"x":0.871,"y":0.542},{"x":0.871,"y":0.526},{"x":0.898,"y":0.516},{"x":0.861,"y":0.501},{"x":0.817,"y":0.514},{"x":0.807,"y":0.457},{"x":0.76,"y":0.48},{"x":0.739,"y":0.516},{"x":0.755,"y":0.542},{"x":0.731,"y":0.555}]},
"encoding":{
"x":{"field":"x","type":"quantitative","title":"NDVI 2016","scale":{"domain":[0.1,1],"nice":false},"axis":{"values":[0.1,0.2,0.3,0.4,0.5,0.6,0.7,0.8,0.9,1],"format":"~g","tickSize":0,"labelPadding":19,"labelFontSize":17,"labelColor":"#5F6E84","titleFontSize":17.5,"titleFontWeight":"bold","titleColor":"#44546A","titlePadding":15,"domainColor":"#C6D0E0","domainWidth":2,"gridColor":"#E6E9F0","gridWidth":2,"labelFlush":false}},
"y":{"field":"y","type":"quantitative","title":"NDVI 2013","scale":{"domain":[0.2,1],"nice":false},"axis":{"values":[0.2,0.3,0.4,0.5,0.6,0.7,0.8,0.9,1],"format":"~g","tickSize":0,"labelPadding":19,"labelFontSize":17,"labelColor":"#5F6E84","titleFontSize":17.5,"titleFontWeight":"bold","titleColor":"#44546A","titlePadding":17,"domainColor":"#C6D0E0","domainWidth":3,"gridColor":"#E6E9F0","gridWidth":2}}},
"layer":[
{"data":{"name":"nochange"},"mark":{"type":"circle","size":108,"opacity":1},"encoding":{"color":{"datum":"No-change","type":"nominal","title":null,"scale":{"domain":["No-change","Change"],"range":["#33A90B","#FF0000"]},"legend":{"orient":"none","legendX":312,"legendY":615,"direction":"horizontal","symbolSize":75,"symbolType":"circle","labelFontSize":18,"labelOffset":6,"labelColor":"#5F6E84","columnPadding":22,"symbolOpacity":1}}}},
{"data":{"name":"change"},"mark":{"type":"circle","size":108,"opacity":1},"encoding":{"color":{"datum":"Change","type":"nominal"}}}
]}
